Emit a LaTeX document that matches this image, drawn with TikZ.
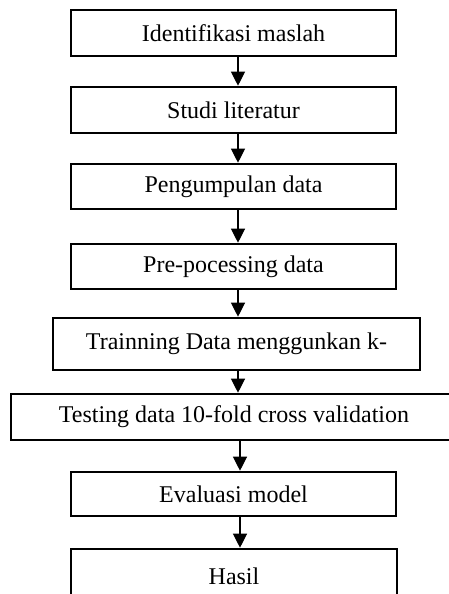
\documentclass[tikz,border=0pt]{standalone}
\usepackage{fontspec}
\setmainfont{Liberation Serif}
\usetikzlibrary{arrows.meta}
\begin{document}
\begin{tikzpicture}[x=1pt,y=-1pt,
  stepbox/.style={draw=black, line width=2.6pt, inner sep=0pt, anchor=north west,
    font=\fontsize{24}{28}\selectfont},
  flow/.style={line width=1.2pt, -{Triangle[width=14pt,length=14pt]}}]
  \useasboundingbox (0,0) rectangle (448,594);
  % process steps (line-centre coordinates: left, top, width, height)
  \node[stepbox, minimum width=325pt, minimum height=46pt] (b1) at (71-1.3,10-1.3) {Identifikasi maslah};
  \node[stepbox, minimum width=325pt, minimum height=46pt] (b2) at (71-1.3,87-1.3) {Studi literatur};
  \node[stepbox, minimum width=325pt, minimum height=45pt] (b3) at (71-1.3,164-1.3) {Pengumpulan data};
  \node[stepbox, minimum width=325pt, minimum height=45pt] (b4) at (71-1.3,244-1.3) {Pre-pocessing data};
  \node[stepbox, minimum width=367pt, minimum height=52pt] (b5) at (53-1.3,318-1.3) {Trainning Data menggunkan k-};
  \node[stepbox, minimum width=446pt, minimum height=46pt] (b6) at (11-1.3,394-1.3) {Testing data 10-fold cross validation};
  \node[stepbox, minimum width=325pt, minimum height=44pt] (b7) at (71-1.3,472-1.3) {Evaluasi model};
  % the last box runs past the lower edge of the page
  \node[stepbox, minimum width=326pt, minimum height=52pt, text depth=0pt,
        text height=24pt] (b8) at (71-1.3,549-1.3) {\raisebox{3pt}{Hasil}};
  % vertical axis of the connectors
  \coordinate (ax) at (238,0);
  \coordinate (axb) at (240,0);
  \draw[flow] (b1.south -| ax) -- (b2.north -| ax);
  \draw[flow] (b2.south -| ax) -- (b3.north -| ax);
  \draw[flow] (b3.south -| ax) -- (b4.north -| ax);
  \draw[flow] (b4.south -| ax) -- (b5.north -| ax);
  \draw[flow] (b5.south -| ax) -- (b6.north -| ax);
  \draw[flow] (b6.south -| axb) -- (b7.north -| axb);
  \draw[flow] (b7.south -| axb) -- (b8.north -| axb);
\end{tikzpicture}
\end{document}
